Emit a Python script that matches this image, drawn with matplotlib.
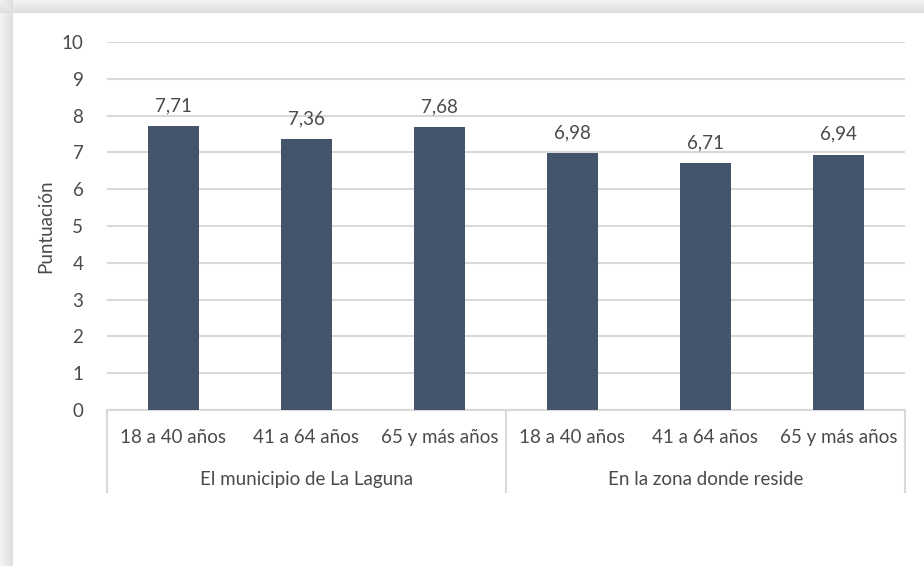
import numpy as np
import matplotlib
matplotlib.use("Agg")
import matplotlib.pyplot as plt
import matplotlib.transforms as mtransforms

groups = ["El municipio de La Laguna", "En la zona donde reside"]
ages = ["18 a 40 años", "41 a 64 años", "65 y más años"]
values = [7.71, 7.36, 7.68, 6.98, 6.71, 6.94]
labels = ["7,71", "7,36", "7,68", "6,98", "6,71", "6,94"]
yticks = [0, 1, 2, 3, 4, 5, 6, 7, 8, 9, 10]

bar_color = "#44546a"
text_color = "#4a4a4a"
grid_color = "#d9d9d9"
fs = 13.5

plt.rcParams["font.family"] = ["Lato", "DejaVu Sans"]

fig = plt.figure(figsize=(9.24, 5.66), dpi=100)

# soft shadow frame along the left and top edges
bg = fig.add_axes([0, 0, 1, 1], zorder=-5)
h, w = 566, 924
shade = np.ones((h, w))
edge = 13
ramp = np.linspace(0.95, 0.87, edge)
shade[:, :edge] = np.minimum(shade[:, :edge], ramp[None, :])
shade[:edge, :] = np.minimum(shade[:edge, :], ramp[:, None])
bg.imshow(shade, cmap="gray", vmin=0, vmax=1, aspect="auto", interpolation="bilinear")
bg.axis("off")

ax = fig.add_axes([0.1158, 0.2756, 0.8636, 0.6502])
x = np.arange(len(values))
ax.bar(x, values, width=0.39, color=bar_color, zorder=3)
for xi, v, lab in zip(x, values, labels):
    ax.text(xi, v + 0.32, lab, ha="center", va="bottom", fontsize=fs, color=text_color)

ax.set_xlim(-0.5, len(values) - 0.5)
ax.set_ylim(0, 10)
ax.set_yticks(yticks)
ax.tick_params(axis="y", length=0, labelsize=fs, labelcolor=text_color, pad=17)
ax.set_xticks([])
ax.grid(axis="y", color=grid_color, linewidth=1.5, zorder=0)
for s in ["top", "right", "left"]:
    ax.spines[s].set_visible(False)
ax.spines["bottom"].set_color(grid_color)
ax.spines["bottom"].set_linewidth(1.5)
ax.set_ylabel("Puntuación", fontsize=fs, color=text_color, labelpad=5)

trans = mtransforms.blended_transform_factory(ax.transData, ax.transAxes)
for i, xi in enumerate(x):
    ax.text(xi, -0.075, ages[i % 3], transform=trans, ha="center", va="center",
            fontsize=fs, color=text_color)
for g, name in enumerate(groups):
    ax.text(g * 3 + 1, -0.19, name, transform=trans, ha="center", va="center",
            fontsize=fs, color=text_color)
for sep in [-0.5, 2.5, 5.5]:
    ax.plot([sep, sep], [0, -0.223], transform=trans, color=grid_color,
            linewidth=1.5, clip_on=False)

fig.savefig("out.png", dpi=100)
